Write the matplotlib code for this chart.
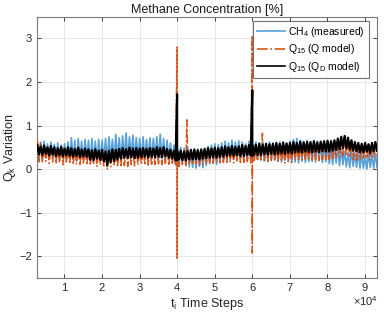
import numpy as np
import matplotlib
matplotlib.use("Agg")
import matplotlib.pyplot as plt

# ---- data ----
t_start, t_end = 2800, 93200

ch4_measured = [
    0.66, 0.24, 0.62, 0.20, 0.64, 0.26, 0.58, 0.22, 0.62, 0.25,
    0.57, 0.22, 0.60, 0.19, 0.55, 0.24, 0.58, 0.21, 0.62, 0.23,
    0.72, 0.22, 0.66, 0.18, 0.70, 0.24, 0.64, 0.20, 0.68, 0.22,
    0.66, 0.18, 0.70, 0.20, 0.64, 0.16, 0.68, 0.21, 0.66, 0.19,
    0.70, 0.20, 0.74, 0.22, 0.68, 0.18, 0.80, 0.24, 0.72, 0.21,
    0.76, 0.26, 0.83, 0.24, 0.74, 0.28, 0.78, 0.25, 0.72, 0.27,
    0.70, 0.25, 0.74, 0.23, 0.68, 0.27, 0.72, 0.24, 0.70, 0.26,
    0.74, 0.22, 0.80, 0.25, 0.70, 0.21, 0.66, 0.24, 0.60, 0.20,
    0.55, 0.10, 0.52, 0.06, 0.50, 0.12, 0.48, 0.08, 0.52, 0.05,
    0.45, 0.04, 0.42, 0.02, 0.46, 0.06, 0.44, 0.03, 0.48, 0.08,
    0.52, 0.12, 0.55, 0.14, 0.58, 0.10, 0.56, 0.16, 0.60, 0.18,
    0.64, 0.22, 0.60, 0.20, 0.66, 0.24, 0.62, 0.21, 0.65, 0.23,
    0.62, 0.22, 0.58, 0.20, 0.64, 0.24, 0.60, 0.21, 0.62, 0.22,
    0.60, 0.20, 0.64, 0.18, 0.58, 0.22, 0.62, 0.19, 0.60, 0.21,
    0.58, 0.18, 0.62, 0.16, 0.60, 0.20, 0.56, 0.17, 0.64, 0.15,
    0.68, 0.16, 0.70, 0.14, 0.66, 0.18, 0.64, 0.15, 0.66, 0.17,
    0.62, 0.18, 0.60, 0.16, 0.64, 0.20, 0.58, 0.15, 0.60, 0.17,
    0.55, 0.12, 0.52, 0.10, 0.56, 0.14, 0.50, 0.08, 0.46, 0.10,
    0.40, 0.05, 0.38, 0.03, 0.42, 0.06, 0.36, 0.04, 0.38, 0.02,
    0.35, 0.02, 0.32, 0.00, 0.36, 0.03, 0.34, 0.01, 0.36, 0.04,
]

q_model = [
    0.68, 0.16, 0.58, 0.14, 0.55, 0.18, 0.52, 0.13, 0.56, 0.16,
    0.50, 0.12, 0.48, 0.14, 0.52, 0.10, 0.46, 0.13, 0.50, 0.12,
    0.48, 0.10, 0.46, 0.12, 0.50, 0.08, 0.45, 0.11, 0.48, 0.09,
    0.45, 0.08, 0.42, 0.10, 0.46, 0.06, 0.44, 0.09, 0.42, 0.07,
    0.44, 0.00, 0.40, 0.05, 0.45, 0.07, 0.43, 0.04, 0.46, 0.08,
    0.48, 0.08, 0.45, 0.06, 0.50, 0.10, 0.46, 0.07, 0.48, 0.09,
    0.46, 0.10, 0.44, 0.12, 0.48, 0.09, 0.45, 0.11, 0.47, 0.10,
    0.48, 0.12, 0.46, 0.10, 0.50, 0.13, 0.45, 0.11, 0.44, 0.10,
    0.42, 0.08, 0.40, 0.06, 0.44, 0.10, 0.42, 0.08, 0.40, 0.10,
    0.42, 0.10, 0.44, 0.12, 0.40, 0.09, 0.43, 0.11, 0.45, 0.12,
    0.45, 0.15, 0.48, 0.13, 0.44, 0.16, 0.47, 0.14, 0.46, 0.15,
    0.50, 0.15, 0.48, 0.17, 0.52, 0.14, 0.49, 0.16, 0.50, 0.15,
    0.50, 0.15, 0.52, 0.17, 0.48, 0.14, 0.51, 0.16, 0.50, 0.18,
    0.55, 0.18, 0.52, 0.20, 0.56, 0.17, 0.53, 0.19, 0.55, 0.18,
    0.52, 0.15, 0.54, 0.17, 0.50, 0.14, 0.53, 0.16, 0.52, 0.15,
    0.55, 0.20, 0.57, 0.18, 0.54, 0.21, 0.56, 0.19, 0.55, 0.20,
    0.55, 0.20, 0.58, 0.22, 0.54, 0.19, 0.57, 0.21, 0.58, 0.22,
    0.60, 0.22, 0.62, 0.24, 0.64, 0.26, 0.68, 0.28, 0.74, 0.30,
    0.76, 0.30, 0.70, 0.26, 0.64, 0.22, 0.58, 0.20, 0.56, 0.22,
    0.58, 0.22, 0.60, 0.24, 0.56, 0.21, 0.62, 0.25, 0.64, 0.26,
]

qd_model = [
    0.55, 0.34, 0.52, 0.32, 0.54, 0.35, 0.50, 0.31, 0.53, 0.33,
    0.50, 0.30, 0.48, 0.32, 0.51, 0.29, 0.47, 0.31, 0.50, 0.30,
    0.48, 0.28, 0.46, 0.30, 0.49, 0.27, 0.45, 0.29, 0.47, 0.28,
    0.45, 0.22, 0.43, 0.20, 0.46, 0.24, 0.42, 0.21, 0.44, 0.18,
    0.40, 0.08, 0.42, 0.16, 0.45, 0.18, 0.44, 0.22, 0.46, 0.24,
    0.48, 0.26, 0.46, 0.25, 0.49, 0.27, 0.47, 0.25, 0.48, 0.26,
    0.47, 0.27, 0.48, 0.28, 0.46, 0.26, 0.48, 0.28, 0.47, 0.27,
    0.50, 0.28, 0.48, 0.27, 0.50, 0.29, 0.46, 0.26, 0.44, 0.24,
    0.42, 0.20, 0.40, 0.22, 0.42, 0.21, 0.40, 0.20, 0.42, 0.22,
    0.44, 0.22, 0.45, 0.23, 0.43, 0.22, 0.45, 0.24, 0.46, 0.25,
    0.48, 0.26, 0.47, 0.27, 0.49, 0.26, 0.48, 0.28, 0.50, 0.28,
    0.52, 0.30, 0.50, 0.31, 0.53, 0.30, 0.51, 0.32, 0.52, 0.30,
    0.55, 0.30, 0.53, 0.32, 0.55, 0.31, 0.54, 0.33, 0.56, 0.32,
    0.58, 0.32, 0.56, 0.34, 0.58, 0.33, 0.57, 0.35, 0.58, 0.34,
    0.60, 0.35, 0.58, 0.36, 0.61, 0.35, 0.59, 0.37, 0.60, 0.36,
    0.62, 0.38, 0.60, 0.39, 0.63, 0.38, 0.61, 0.40, 0.62, 0.39,
    0.62, 0.38, 0.64, 0.40, 0.61, 0.39, 0.63, 0.41, 0.64, 0.40,
    0.65, 0.40, 0.64, 0.42, 0.66, 0.44, 0.70, 0.46, 0.74, 0.48,
    0.76, 0.48, 0.72, 0.45, 0.66, 0.42, 0.62, 0.40, 0.60, 0.38,
    0.58, 0.38, 0.60, 0.40, 0.57, 0.37, 0.60, 0.41, 0.62, 0.42,
]

# spikes (time step, value)
q_spike_t = [40000, 40001, 42600, 60000, 60001, 62700]
q_spike_v = [2.80, -2.05, 1.13, 3.07, -1.93, 0.82]
qd_spike_t = [40000, 40001, 60000, 60001]
qd_spike_v = [1.72, 0.20, 1.81, 0.30]

x_ticks = [1e4, 2e4, 3e4, 4e4, 5e4, 6e4, 7e4, 8e4, 9e4]
x_tick_labels = ["1", "2", "3", "4", "5", "6", "7", "8", "9"]
y_ticks = [-2, -1, 0, 1, 2, 3]


def merge(base, spike_t, spike_v):
    t = np.linspace(t_start, t_end, len(base))
    tt = np.concatenate([t, np.array(spike_t, float)])
    vv = np.concatenate([np.array(base, float), np.array(spike_v, float)])
    order = np.argsort(tt, kind="stable")
    return tt[order], vv[order]


plt.rcParams["font.family"] = ["Liberation Sans", "DejaVu Sans"]
plt.rcParams["mathtext.fontset"] = "custom"
plt.rcParams["mathtext.rm"] = "Liberation Sans"
plt.rcParams["mathtext.it"] = "Liberation Sans"
plt.rcParams["mathtext.default"] = "regular"

fig = plt.figure(figsize=(3.84, 3.16), dpi=100)
ax = fig.add_axes([0.097, 0.121, 0.885, 0.826])

t_b, v_b = merge(ch4_measured, [], [])
t_o, v_o = merge(q_model, q_spike_t, q_spike_v)
t_k, v_k = merge(qd_model, qd_spike_t, qd_spike_v)

ax.plot(t_b, v_b, color="#3A8FD2", lw=1.2, alpha=0.85, label="CH$_4$ (measured)", zorder=2)
ax.plot(t_o, v_o, color="#D95319", lw=1.1, ls="-.", label="Q$_{15}$ (Q model)", zorder=3)
ax.plot(t_k, v_k, color="black", lw=1.6, label="Q$_{15}$ (Q$_D$ model)", zorder=4)

ax.set_xlim(t_start, t_end)
ax.set_ylim(-2.5, 3.5)
ax.set_xticks(x_ticks)
ax.set_xticklabels(x_tick_labels)
ax.set_yticks(y_ticks)
ax.tick_params(direction="in", length=3, width=0.6, labelsize=8, colors="#262626",
               top=True, right=True, pad=4)
ax.grid(True, color="#e3e3e3", lw=0.6)
ax.set_axisbelow(True)
for s in ax.spines.values():
    s.set_color("#7a7a7a")
    s.set_linewidth(0.8)

ax.set_title("Methane Concentration [%]", fontsize=9, pad=3, color="#1a1a1a")
ax.set_xlabel("t$_i$ Time Steps", fontsize=9, labelpad=2, color="#262626")
ax.set_ylabel("Q$_k$ Variation", fontsize=9, color="#262626")
ax.yaxis.set_label_coords(-0.058, 0.5)
fig.text(0.985, 0.025, r"$\times10^4$", ha="right", va="bottom", fontsize=8, color="#262626")

leg = ax.legend(loc="upper right", bbox_to_anchor=(0.975, 0.985), fontsize=7.5,
                frameon=True, fancybox=False, borderpad=0.4, handlelength=2.6,
                handletextpad=0.3, labelspacing=0.35, borderaxespad=0)
leg.get_frame().set_edgecolor("#4d4d4d")
leg.get_frame().set_linewidth(0.8)
for h in leg.get_lines():
    h.set_linewidth(1.2)

fig.savefig("out.png", dpi=100)
